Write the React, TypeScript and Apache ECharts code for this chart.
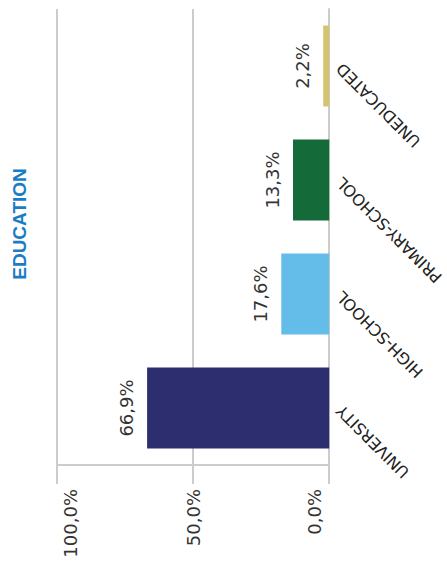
import React, { useEffect, useRef } from "react";
import * as echarts from "echarts";

const categories = ["UNIVERSITY", "HIGH-SCHOOL", "PRIMARY-SCHOOL", "UNEDUCATED"];
const values = [66.9, 17.6, 13.3, 2.2];
const barColors = ["#2d2e6f", "#64bde9", "#146a38", "#d5c36f"];
const tickValues = [0, 50, 100];
const titleText = "EDUCATION";

const fmt = (v: number) => v.toFixed(1).replace(".", ",") + "%";

export default function App() {
  const ref = useRef<HTMLDivElement>(null);
  useEffect(() => {
    if (!ref.current) return;
    const chart = echarts.init(ref.current, undefined, { renderer: "svg" });
    const font = "DejaVu Sans";
    chart.setOption({
      animation: false,
      grid: { left: 57, right: 116, top: 9, bottom: 99, containLabel: false },
      graphic: [
        {
          type: "text",
          x: 19,
          y: 224,
          rotation: Math.PI / 2,
          style: {
            text: titleText,
            fill: "#1a7cc5",
            font: "bold 19px 'Liberation Sans', Arial, sans-serif",
            align: "center",
            verticalAlign: "middle",
          },
        },
      ],
      xAxis: {
        type: "value",
        inverse: true,
        min: tickValues[0],
        max: tickValues[tickValues.length - 1],
        interval: 50,
        axisLine: { show: true, lineStyle: { color: "#cccccc", width: 2 } },
        axisTick: { show: true, length: 19, lineStyle: { color: "#cccccc", width: 2 } },
        splitLine: { show: true, lineStyle: { color: "#cccccc", width: 2 } },
        axisLabel: {
          rotate: 90,
          margin: 24,
          formatter: (v: number) => {
            const key = v === 100 ? "a" : v === 0 ? "c" : "b";
            return "{" + key + "|" + fmt(v) + "}";
          },
          rich: {
            a: { fontFamily: font, fontSize: 18, color: "#333", padding: [26, 0, 0, 0] },
            b: { fontFamily: font, fontSize: 18, color: "#333" },
            c: { fontFamily: font, fontSize: 18, color: "#333", padding: [0, 0, 30, 0] },
          },
        },
      },
      yAxis: {
        type: "category",
        position: "right",
        data: categories,
        axisLine: { show: true, lineStyle: { color: "#cccccc", width: 2 } },
        axisTick: { show: false },
        splitLine: { show: false },
        axisLabel: {
          rotate: 135,
          align: "right",
          verticalAlign: "middle",
          margin: 10,
          color: "#222",
          fontFamily: font,
          fontSize: 16,
        },
      },
      series: [
        {
          type: "bar",
          barWidth: 81,
          data: values.map((v, i) => ({ value: v, itemStyle: { color: barColors[i] } })),
          label: {
            show: true,
            position: "left",
            rotate: 90,
            align: "center",
            verticalAlign: "bottom",
            distance: 12,
            color: "#333",
            fontFamily: font,
            fontSize: 18,
            formatter: (p: any) => fmt(p.value),
          },
        },
      ],
    });
    return () => chart.dispose();
  }, []);
  return <div ref={ref} style={{ width: 447, height: 564, position: "absolute", left: 0, top: 0 }} />;
}
